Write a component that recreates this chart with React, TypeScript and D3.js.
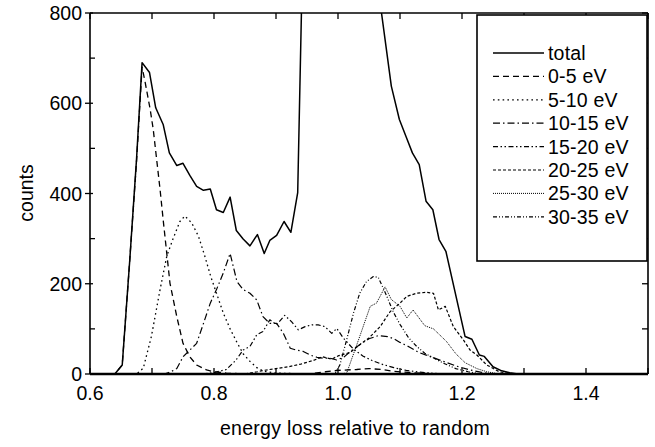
import React from "react";
import * as d3 from "d3";

const W = 655;
const H = 447;
const M = { left: 90, right: 648, top: 13, bottom: 374 };

const xMajorTicks = [0.6, 0.8, 1.0, 1.2, 1.4];
const xTickLabels = ["0.6", "0.8", "1.0", "1.2", "1.4"];
const yMajorTicks = [0, 200, 400, 600, 800];
const yTickLabels = ["0", "200", "400", "600", "800"];
const yMinorTicks = [100, 300, 500, 700];

const seriesNames = ["total", "0-5 eV", "5-10 eV", "10-15 eV", "15-20 eV", "20-25 eV", "25-30 eV", "30-35 eV"];

const totalX = [0.60, 0.640, 0.652, 0.664, 0.675, 0.684, 0.696, 0.706, 0.718, 0.728, 0.740, 0.750, 0.761, 0.772, 0.783, 0.794, 0.804, 0.815, 0.826, 0.836, 0.847, 0.858, 0.870, 0.881, 0.890, 0.901, 0.913, 0.924, 0.935, 0.945, 0.96, 1.0, 1.04, 1.054, 1.065, 1.086, 1.099, 1.110, 1.120, 1.131, 1.142, 1.153, 1.163, 1.174, 1.205, 1.216, 1.228, 1.236, 1.250, 1.264, 1.277, 1.29, 1.5];
const totalY = [0, 0, 20, 250, 475, 690, 668, 590, 553, 490, 462, 467, 440, 416, 407, 410, 364, 358, 392, 318, 299, 284, 309, 267, 296, 307, 338, 314, 402, 1065, 1800, 2200, 1500, 1000, 853, 638, 564, 525, 490, 464, 383, 364, 298, 272, 83, 77, 42, 39, 16, 7, 3, 0, 0];

const e0X = [0.60, 0.640, 0.652, 0.664, 0.675, 0.684, 0.689, 0.697, 0.702, 0.713, 0.718, 0.729, 0.740, 0.750, 0.761, 0.772, 0.788, 0.80, 0.82, 0.85, 0.95, 0.98, 1.0, 1.03, 1.05, 1.07, 1.09, 1.12, 1.15, 1.5];
const e0Y = [0, 0, 20, 250, 470, 680, 646, 587, 542, 409, 342, 201, 127, 68, 38, 20, 9, 5, 2, 0, 0, 5, 8, 10, 12, 10, 6, 3, 0, 0];

const e5X = [0.60, 0.675, 0.686, 0.699, 0.713, 0.724, 0.734, 0.745, 0.753, 0.764, 0.775, 0.785, 0.795, 0.805, 0.815, 0.826, 0.837, 0.847, 0.858, 0.869, 0.88, 0.90, 0.95, 1.5];
const e5Y = [0, 0, 13, 83, 187, 262, 300, 338, 350, 335, 305, 262, 215, 175, 135, 100, 70, 45, 28, 14, 6, 2, 0, 0];

const e10X = [0.60, 0.72, 0.729, 0.740, 0.750, 0.761, 0.772, 0.783, 0.794, 0.804, 0.815, 0.826, 0.837, 0.847, 0.858, 0.869, 0.879, 0.890, 0.901, 0.912, 0.923, 0.933, 0.944, 0.955, 0.966, 0.976, 0.987, 0.998, 1.01, 1.02, 1.035, 1.05, 1.065, 1.08, 1.09, 1.10, 1.115, 1.13, 1.15, 1.17, 1.19, 1.21, 1.23, 1.25, 1.5];
const e10Y = [0, 0, 4, 12, 38, 53, 68, 112, 157, 187, 224, 267, 205, 187, 179, 164, 127, 112, 112, 90, 57, 53, 50, 42, 37, 35, 35, 31, 38, 50, 65, 78, 85, 83, 78, 70, 60, 48, 38, 28, 18, 10, 4, 0, 0];

const e15X = [0.60, 0.78, 0.80, 0.82, 0.835, 0.847, 0.858, 0.869, 0.879, 0.890, 0.901, 0.914, 0.925, 0.936, 0.947, 0.958, 0.968, 0.979, 0.990, 0.998, 1.009, 1.025, 1.04, 1.055, 1.07, 1.09, 1.11, 1.14, 1.17, 1.5];
const e15Y = [0, 0, 3, 10, 30, 53, 61, 87, 94, 120, 109, 130, 116, 98, 105, 109, 109, 105, 90, 101, 79, 55, 40, 30, 22, 14, 8, 3, 0, 0];

const e20X = [0.60, 0.85, 0.87, 0.88, 0.90, 0.92, 0.94, 0.96, 0.975, 0.99, 1.0, 1.02, 1.035, 1.05, 1.068, 1.084, 1.1, 1.111, 1.127, 1.143, 1.154, 1.162, 1.173, 1.186, 1.202, 1.213, 1.224, 1.24, 1.26, 1.28, 1.5];
const e20Y = [0, 0, 5, 8, 12, 16, 22, 30, 38, 33, 40, 48, 65, 80, 105, 138, 157, 172, 179, 181, 179, 142, 150, 105, 76, 53, 42, 20, 5, 0, 0];

const e25X = [0.60, 1.0, 1.014, 1.035, 1.052, 1.062, 1.076, 1.086, 1.1, 1.111, 1.121, 1.14, 1.154, 1.175, 1.19, 1.205, 1.224, 1.24, 1.26, 1.5];
const e25Y = [0, 0, 2, 83, 150, 157, 193, 165, 150, 124, 142, 107, 100, 72, 45, 25, 12, 5, 0, 0];

const e30X = [0.60, 0.995, 1.003, 1.014, 1.025, 1.035, 1.046, 1.057, 1.065, 1.073, 1.08, 1.089, 1.1, 1.114, 1.127, 1.14, 1.155, 1.17, 1.19, 1.21, 1.23, 1.5];
const e30Y = [0, 0, 20, 76, 135, 179, 205, 216, 214, 190, 168, 138, 110, 80, 61, 46, 35, 24, 12, 5, 0, 0];

const seriesX = [totalX, e0X, e5X, e10X, e15X, e20X, e25X, e30X];
const seriesY = [totalY, e0Y, e5Y, e10Y, e15Y, e20Y, e25Y, e30Y];

const dashes = ["none", "6,4", "1.6,3.2", "7,3,1.5,3", "5,2.5,1.5,2.5,1.5,2.5", "3,2", "1,1", "4,2,1,2,1,2"];
const widths = [1.5, 1.3, 1.3, 1.2, 1.2, 1.2, 1.0, 1.2];

const FONT = "'Liberation Sans', Arial, Helvetica, sans-serif";
const FS = 19.5;

export default function App() {
  const x = d3.scaleLinear().domain([0.6, 1.5]).range([M.left, M.right]);
  const y = d3.scaleLinear().domain([0, 800]).range([M.bottom, M.top]);
  const line = d3
    .line<[number, number]>()
    .x((d) => x(d[0]))
    .y((d) => y(d[1]));
  const allXTicks = x.ticks(9);
  const allYTicks = y.ticks(8);

  const legX0 = 477;
  const legY0 = 15;
  const legW = 170;
  const legH = 246;
  const rowY = (i: number) => 53 + i * 23.4;

  return (
    <svg
      width={W}
      height={H}
      style={{ position: "absolute", left: 0, top: 0, background: "#fff" }}
      fontFamily={FONT}
    >
      <defs>
        <clipPath id="plotclip">
          <rect x={M.left} y={M.top} width={M.right - M.left} height={M.bottom - M.top} />
        </clipPath>
      </defs>
      <rect x={0} y={0} width={W} height={H} fill="#fff" />

      <g clipPath="url(#plotclip)">
        {seriesX.map((xs, i) => {
          const pts: [number, number][] = xs.map((v, j) => [v, seriesY[i][j]]);
          return (
            <path
              key={i}
              d={line(pts) || ""}
              fill="none"
              stroke="#000"
              strokeWidth={widths[i]}
              strokeDasharray={dashes[i]}
              strokeLinejoin="round"
            />
          );
        })}
      </g>

      {/* frame */}
      <line x1={M.left} y1={M.top} x2={M.right} y2={M.top} stroke="#000" strokeWidth={1.6} />
      <line x1={M.left} y1={M.top} x2={M.left} y2={M.bottom} stroke="#000" strokeWidth={1.6} />
      <line x1={M.right} y1={M.top} x2={M.right} y2={M.bottom} stroke="#000" strokeWidth={1.6} />
      <line x1={M.left} y1={M.bottom} x2={M.right} y2={M.bottom} stroke="#000" strokeWidth={2.4} />

      {/* x ticks top and bottom */}
      {allXTicks.map((t, i) => (
        <g key={"xt" + i}>
          <line x1={x(t)} x2={x(t)} y1={M.top} y2={M.top + 6} stroke="#000" strokeWidth={1.3} />
          <line x1={x(t)} x2={x(t)} y1={M.bottom} y2={M.bottom - 6} stroke="#000" strokeWidth={1.3} />
        </g>
      ))}
      {xMajorTicks.map((t, i) => (
        <text key={"xl" + i} x={x(t)} y={400} fontSize={FS} textAnchor="middle" fill="#000">
          {xTickLabels[i]}
        </text>
      ))}

      {/* y ticks */}
      {yMajorTicks.map((t, i) => (
        <g key={"ym" + i}>
          <line x1={M.left - 5} x2={M.left + 3} y1={y(t)} y2={y(t)} stroke="#000" strokeWidth={1.3} />
          <text x={82} y={y(t) + 7} fontSize={FS} textAnchor="end" fill="#000">
            {yTickLabels[i]}
          </text>
        </g>
      ))}
      {yMinorTicks.map((t, i) => (
        <line key={"yn" + i} x1={M.left} x2={M.left + 5} y1={y(t)} y2={y(t)} stroke="#000" strokeWidth={1.3} />
      ))}
      {allYTicks.map((t, i) => (
        <line key={"yr" + i} x1={M.right} x2={M.right - 6} y1={y(t)} y2={y(t)} stroke="#000" strokeWidth={1.3} />
      ))}

      {/* axis titles */}
      <text x={355} y={435} fontSize={FS} textAnchor="middle" fill="#000" letterSpacing={0.3}>
        energy loss relative to random
      </text>
      <text
        transform={`translate(33, 193) rotate(-90)`}
        fontSize={FS}
        textAnchor="middle"
        fill="#000"
      >
        counts
      </text>

      {/* legend */}
      <rect x={legX0} y={legY0} width={legW} height={legH} fill="#fff" stroke="#000" strokeWidth={1.6} />
      {seriesNames.map((name, i) => (
        <g key={"lg" + i}>
          <line
            x1={493}
            x2={544}
            y1={rowY(i)}
            y2={rowY(i)}
            stroke="#000"
            strokeWidth={widths[i]}
            strokeDasharray={dashes[i]}
          />
          <text x={548} y={rowY(i) + 7} fontSize={FS} fill="#000" letterSpacing={0.2}>
            {name}
          </text>
        </g>
      ))}
    </svg>
  );
}
